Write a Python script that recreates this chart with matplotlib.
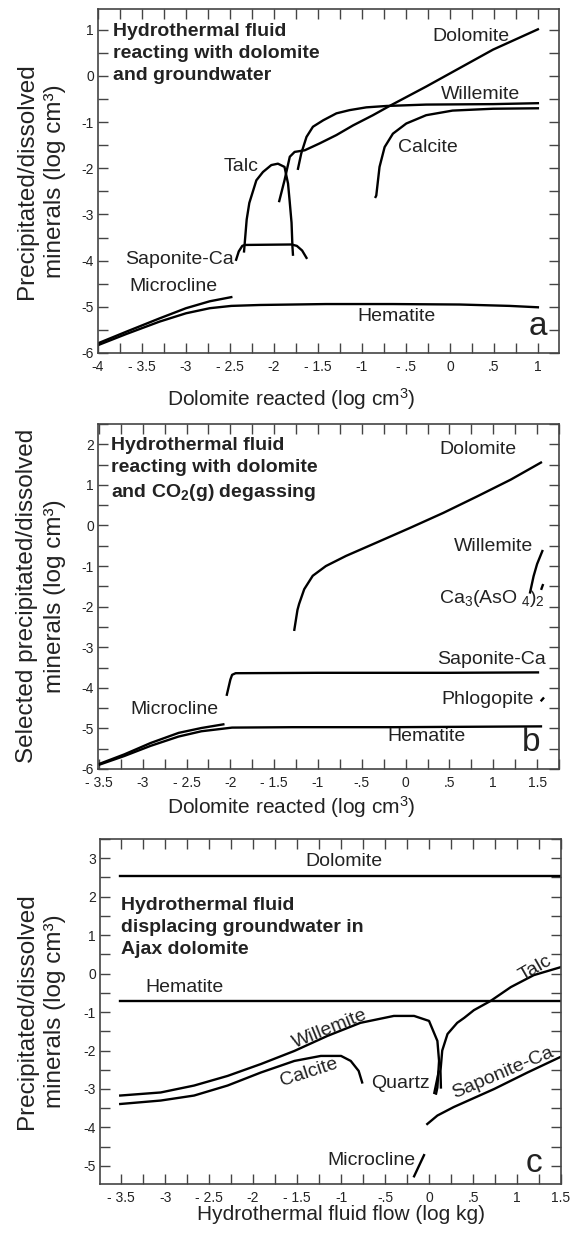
import numpy as np
import matplotlib.pyplot as plt
from matplotlib.ticker import MultipleLocator

plt.rcParams['font.family'] = ['Liberation Sans', 'DejaVu Sans']
plt.rcParams['mathtext.default'] = 'regular'

# ---- panel a : fluid reacting with dolomite and groundwater ----
a_dol_x = [-1.94, -1.88, -1.82, -1.765, -1.65, -1.48, -1.29, -1.10, -0.875, -0.686, -0.27, 0.11, 0.49, 1.0]
a_dol_y = [-2.71, -2.26, -1.75, -1.645, -1.61, -1.46, -1.28, -1.07, -0.85, -0.65, -0.23, 0.17, 0.57, 1.01]
a_wil_x = [-1.727, -1.69, -1.63, -1.557, -1.44, -1.29, -1.14, -0.95, -0.72, -0.27, 0.49, 1.0]
a_wil_y = [-2.01, -1.68, -1.32, -1.10, -0.96, -0.81, -0.74, -0.68, -0.65, -0.62, -0.61, -0.59]
a_cal_x = [-0.845, -0.837, -0.80, -0.742, -0.648, -0.496, -0.27, 0.03, 0.49, 1.0]
a_cal_y = [-2.62, -2.59, -1.97, -1.54, -1.25, -1.03, -0.85, -0.75, -0.71, -0.70]
a_talc_x = [-2.34, -2.31, -2.28, -2.20, -2.125, -2.03, -1.955, -1.88, -1.84, -1.822, -1.80, -1.79, -1.784]
a_talc_y = [-3.80, -3.11, -2.75, -2.26, -2.08, -1.93, -1.90, -1.97, -2.33, -2.70, -3.18, -3.69, -3.87]
a_sap_x = [-2.43, -2.40, -2.36, -2.33, -1.80, -1.74, -1.68, -1.63]
a_sap_y = [-3.98, -3.80, -3.68, -3.66, -3.65, -3.68, -3.78, -3.94]
a_mic_x = [-4.0, -3.68, -3.30, -3.0, -2.73, -2.485]
a_mic_y = [-5.79, -5.54, -5.25, -5.03, -4.88, -4.79]
a_hem_x = [-4.0, -3.68, -3.30, -3.0, -2.73, -2.485, -2.16, -1.41, -0.65, 0.11, 0.68, 1.0]
a_hem_y = [-5.83, -5.59, -5.32, -5.14, -5.03, -4.98, -4.96, -4.94, -4.94, -4.95, -4.98, -5.01]

# ---- panel b : fluid reacting with dolomite and CO2 degassing ----
b_dol_x = [-1.27, -1.234, -1.215, -1.157, -1.06, -0.91, -0.68, -0.33, 0.05, 0.43, 0.82, 1.20, 1.544]
b_dol_y = [-2.57, -2.08, -1.93, -1.57, -1.24, -1.0, -0.75, -0.42, -0.06, 0.31, 0.72, 1.13, 1.55]
b_wil_x = [1.42, 1.46, 1.50, 1.56]
b_wil_y = [-1.65, -1.25, -0.95, -0.63]
b_cas_x = [1.55, 1.565]
b_cas_y = [-1.56, -1.47]
b_sap_x = [-2.04, -2.0, -1.98, -1.94, -1.0, 0.5, 1.51]
b_sap_y = [-4.17, -3.80, -3.68, -3.64, -3.63, -3.63, -3.62]
b_phl_x = [1.55, 1.57]
b_phl_y = [-4.31, -4.26]
b_mic_x = [-3.49, -3.21, -2.91, -2.59, -2.33, -2.08]
b_mic_y = [-5.87, -5.64, -5.36, -5.11, -4.99, -4.90]
b_hem_x = [-3.49, -3.21, -2.91, -2.59, -2.33, -1.98, -1.29, -0.14, 1.544]
b_hem_y = [-5.89, -5.68, -5.43, -5.20, -5.07, -4.98, -4.97, -4.97, -4.95]

# ---- panel c : fluid displacing groundwater in Ajax dolomite ----
c_dol_x = [-3.51, 1.5]
c_dol_y = [2.55, 2.55]
c_hem_x = [-3.51, 1.5]
c_hem_y = [-0.71, -0.71]
c_talc_x = [0.135, 0.13, 0.15, 0.21, 0.32, 0.40, 0.51, 0.70, 0.93, 1.19, 1.50]
c_talc_y = [-2.96, -2.53, -2.0, -1.57, -1.28, -1.15, -0.95, -0.71, -0.35, -0.04, 0.17]
c_wil_x = [-3.51, -3.05, -2.67, -2.29, -1.91, -1.53, -1.155, -0.78, -0.40, -0.17, 0.0, 0.095, 0.114, 0.095, 0.08]
c_wil_y = [-3.17, -3.09, -2.91, -2.66, -2.35, -2.01, -1.62, -1.28, -1.10, -1.10, -1.23, -1.75, -2.27, -2.96, -3.12]
c_cal_x = [-3.51, -3.05, -2.67, -2.29, -1.91, -1.53, -1.23, -1.0, -0.89, -0.80, -0.76]
c_cal_y = [-3.39, -3.30, -3.17, -2.91, -2.57, -2.27, -2.14, -2.14, -2.27, -2.53, -2.83]
c_qtz_x = [0.06, 0.11]
c_qtz_y = [-3.10, -2.55]
c_sap_x = [-0.02, 0.095, 0.28, 0.74, 1.12, 1.50]
c_sap_y = [-3.91, -3.69, -3.47, -3.0, -2.57, -2.16]
c_mic_x = [-0.17, -0.057]
c_mic_y = [-5.27, -4.72]

xt_a = [-4, -3.5, -3, -2.5, -2, -1.5, -1, -0.5, 0, 0.5, 1]
xl_a = ['-4', '- 3.5', '-3', '- 2.5', '-2', '- 1.5', '-1', '- .5', '0', '.5', '1']
xt_b = [-3.5, -3, -2.5, -2, -1.5, -1, -0.5, 0, 0.5, 1, 1.5]
xl_b = ['- 3.5', '-3', '- 2.5', '-2', '- 1.5', '-1', '-.5', '0', '.5', '1', '1.5']

W, H = 575, 1239
fig = plt.figure(figsize=(W / 100, H / 100), dpi=100)

LW = 1.7
SPC = '#444444'
TXT = '#222222'


def box(l, t, r, b):
    return [l / W, 1 - b / H, (r - l) / W, (b - t) / H]


def style(ax, xlim, ylim, xt, xl, yt):
    ax.set_xlim(*xlim)
    ax.set_ylim(*ylim)
    ax.set_xticks(xt)
    ax.set_xticklabels(xl)
    ax.set_yticks(yt)
    ax.set_yticklabels([str(v) for v in yt])
    ax.xaxis.set_minor_locator(MultipleLocator(0.25))
    ax.yaxis.set_minor_locator(MultipleLocator(0.5))
    ax.tick_params(which='both', direction='in', top=True, right=True, length=7,
                   width=1.0, color=SPC, labelsize=10, labelcolor=TXT)
    ax.tick_params(axis='y', pad=3)
    ax.tick_params(axis='x', pad=5)
    for s in ax.spines.values():
        s.set_color(SPC)
        s.set_linewidth(1.2)


def lbl(ax, x, y, s, **kw):
    ax.text(x, y, s, fontsize=14, color=TXT, ha='center', va='center', **kw)


def title(ax, x, y, s):
    ax.text(x, y, s, fontsize=14, fontweight='bold', color=TXT, ha='left', va='center',
            linespacing=1.38)


ylab1 = 'Precipitated/dissolved\nminerals (log cm\u00b3)'
ylab2 = 'Selected precipitated/dissolved\nminerals (log cm\u00b3)'

# panel a
ax = fig.add_axes(box(98, 9, 559, 353))
style(ax, (-4, 1.24), (-6, 1.45), xt_a, xl_a, list(range(-6, 2)))
for xs, ys in [(a_dol_x, a_dol_y), (a_wil_x, a_wil_y), (a_cal_x, a_cal_y), (a_talc_x, a_talc_y),
               (a_sap_x, a_sap_y), (a_mic_x, a_mic_y), (a_hem_x, a_hem_y)]:
    ax.plot(xs, ys, color='black', lw=LW)
title(ax, -3.83, 0.49, 'Hydrothermal fluid\nreacting with dolomite\nand groundwater')
lbl(ax, 0.24, 0.85, 'Dolomite')
lbl(ax, 0.345, -0.41, 'Willemite')
lbl(ax, -0.25, -1.54, 'Calcite')
lbl(ax, -2.37, -1.97, 'Talc')
lbl(ax, -3.07, -3.98, 'Saponite-Ca')
lbl(ax, -3.14, -4.57, 'Microcline')
lbl(ax, -0.61, -5.21, 'Hematite')
ax.text(1.0, -5.42, 'a', fontsize=24, ha='center', va='center', color=TXT)

# panel b
ax = fig.add_axes(box(98, 424, 559, 769))
style(ax, (-3.51, 1.75), (-6, 2.5), xt_b, xl_b, list(range(-6, 3)))
for xs, ys in [(b_dol_x, b_dol_y), (b_wil_x, b_wil_y), (b_cas_x, b_cas_y), (b_sap_x, b_sap_y),
               (b_phl_x, b_phl_y), (b_mic_x, b_mic_y), (b_hem_x, b_hem_y)]:
    ax.plot(xs, ys, color='black', lw=LW)
title(ax, -3.36, 1.37, 'Hydrothermal fluid\nreacting with dolomite\nand CO$_2$(g) degassing')
lbl(ax, 0.82, 1.86, 'Dolomite')
lbl(ax, 1.0, -0.51, 'Willemite')
lbl(ax, 0.99, -1.81, 'Ca$_3$(AsO$_{\\ 4}$)$_2$')
lbl(ax, 0.98, -3.31, 'Saponite-Ca')
lbl(ax, 0.94, -4.28, 'Phlogopite')
lbl(ax, -2.64, -4.54, 'Microcline')
lbl(ax, 0.24, -5.21, 'Hematite')
ax.text(1.43, -5.35, 'b', fontsize=24, ha='center', va='center', color=TXT)

# panel c
ax = fig.add_axes(box(100, 839, 561, 1184))
style(ax, (-3.74, 1.5), (-5.47, 3.5), xt_b, xl_b, list(range(-5, 4)))
for xs, ys in [(c_dol_x, c_dol_y), (c_hem_x, c_hem_y), (c_talc_x, c_talc_y), (c_wil_x, c_wil_y),
               (c_cal_x, c_cal_y), (c_qtz_x, c_qtz_y), (c_sap_x, c_sap_y), (c_mic_x, c_mic_y)]:
    ax.plot(xs, ys, color='black', lw=LW)
title(ax, -3.5, 1.2, 'Hydrothermal fluid\ndisplacing groundwater in\nAjax dolomite')
lbl(ax, -0.97, 2.91, 'Dolomite')
lbl(ax, -2.78, -0.37, 'Hematite')
lbl(ax, 1.21, 0.13, 'Talc', rotation=30)
lbl(ax, -1.125, -1.45, 'Willemite', rotation=22)
lbl(ax, -1.36, -2.57, 'Calcite', rotation=18)
lbl(ax, -0.33, -2.87, 'Quartz')
lbl(ax, 0.84, -2.57, 'Saponite-Ca', rotation=23)
lbl(ax, -0.66, -4.87, 'Microcline')
ax.text(1.19, -4.95, 'c', fontsize=24, ha='center', va='center', color=TXT)

# axis titles
for yc, s in [(181, ylab1), (596, ylab2), (1011, ylab1)]:
    fig.text(41 / W, 1 - yc / H, s, rotation=90, fontsize=17.5, ha='center', va='center',
             linespacing=1.32, color=TXT)
fig.text(291 / W, 1 - 399 / H, 'Dolomite reacted (log cm$^3$)', fontsize=15, ha='center',
         va='center', color=TXT)
fig.text(291 / W, 1 - 807 / H, 'Dolomite reacted (log cm$^3$)', fontsize=15, ha='center',
         va='center', color=TXT)
fig.text(341 / W, 1 - 1214 / H, 'Hydrothermal fluid flow (log kg)', fontsize=15, ha='center',
         va='center', color=TXT)

fig.savefig('out.png', dpi=100)
